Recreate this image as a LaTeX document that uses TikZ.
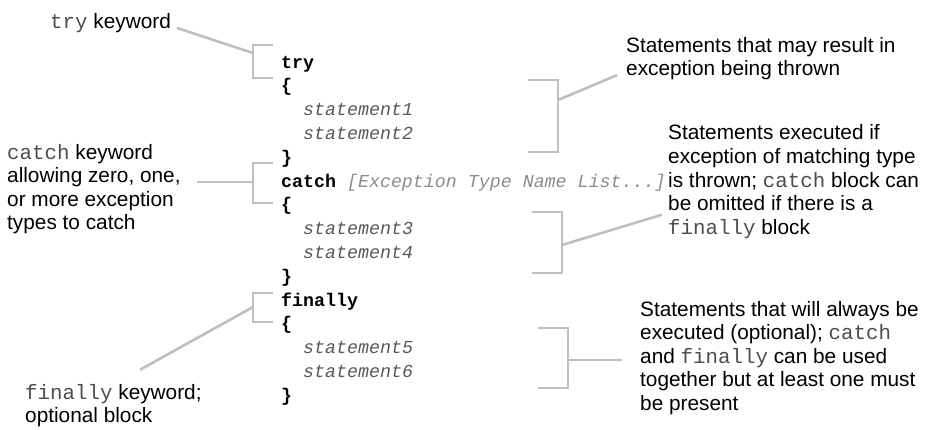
\documentclass[tikz,border=0pt]{standalone}
\usepackage{fontspec}
\setmainfont{Liberation Sans}
\newfontfamily\codefamily{Liberation Mono}
\usetikzlibrary{calc,positioning}
\definecolor{bracketgray}{HTML}{BFBFBF}
\definecolor{stmtgray}{HTML}{595959}
\definecolor{listgray}{HTML}{8C8C8C}
\definecolor{kwgray}{HTML}{4D4D4D}
\newcommand{\kw}[1]{{\codefamily\color{kwgray}#1}}

\begin{document}
\begin{tikzpicture}[
  x=1pt, y=-1pt,
  lbl/.style={anchor=base west, inner sep=0pt, align=left, font=\fontsize{20.8}{23.6}\selectfont},
  codeline/.style={anchor=base west, inner sep=0pt, font=\codefamily\fontsize{18.3}{23.8}\selectfont},
  stmt/.style={codeline, font=\codefamily\itshape\fontsize{18.3}{23.8}\selectfont, text=stmtgray},
  bracket/.style={draw=bracketgray, line width=2.8pt},
  link/.style={draw=bracketgray, line width=2.6pt}
]
\useasboundingbox (0,0) rectangle (932,429);

% code block
\node[codeline] (ltry) at (281,68) {\bfseries try};
\node[codeline] (lopen1) at (281,91.8) {\bfseries\{};
\node[stmt] (lst1) at (303,115.6) {statement1};
\node[stmt] (lst2) at (303,139.4) {statement2};
\node[codeline] (lclose1) at (281,163.2) {\bfseries\}};
\node[codeline] (lcatch) at (281,187) {\textbf{catch} {\itshape\color{listgray}[Exception Type Name List...]}};
\node[codeline] (lopen2) at (281,210.8) {\bfseries\{};
\node[stmt] (lst3) at (303,234.6) {statement3};
\node[stmt] (lst4) at (303,258.4) {statement4};
\node[codeline] (lclose2) at (281,282.2) {\bfseries\}};
\node[codeline] (lfinally) at (281,306) {\bfseries finally};
\node[codeline] (lopen3) at (281,329.8) {\bfseries\{};
\node[stmt] (lst5) at (303,353.6) {statement5};
\node[stmt] (lst6) at (303,377.4) {statement6};
\node[codeline] (lclose3) at (281,401.2) {\bfseries\}};

% labels (base = last line)
\node[lbl] (trylbl) at (50,28) {\kw{try} keyword};
\node[lbl] (catchlbl) at (7,229.8) {\kw{catch} keyword\\allowing zero, one,\\or more exception\\types to catch};
\node[lbl] (finlbl) at (25,422.6) {\kw{finally} keyword;\\optional block};
\node[lbl] (throwlbl) at (626,75.6) {Statements that may result in\\exception being thrown};
\node[lbl] (matchlbl) at (668,234.2) {Statements executed if\\exception of matching type\\is thrown; \kw{catch} block can\\be omitted if there is a\\\kw{finally} block};
\node[lbl] (alwayslbl) at (640,410.4) {Statements that will always be\\executed (optional); \kw{catch}\\and \kw{finally} can be used\\together but at least one must\\be present};

% brackets
\draw[bracket] (273,45) -| (253,78) -- (273,78);
\draw[bracket] (273,163) -| (253,203) -- (273,203);
\draw[bracket] (273,293) -| (253,322) -- (273,322);
\draw[bracket] (528,80) -| (558,152) -- (528,152);
\draw[bracket] (532,212) -| (562,273) -- (532,273);
\draw[bracket] (538,328) -| (568,388) -- (538,388);

\coordinate (btry) at (253,53);
\coordinate (bcatch) at (253,182);
\coordinate (bfin) at (253,307);
\coordinate (bthrow) at (558,100);
\coordinate (bmatch) at (562,245);
\coordinate (balways) at (568,360);

% connectors
\draw[link] ($(trylbl.base east)+(6,0)$) -- (btry);
\draw[link] ($(catchlbl.north east |- bcatch)+(16,0)$) -- (bcatch);
\draw[link] ($(finlbl.north west)+(115,-14)$) -- (bfin);
\draw[link] (bthrow) -- ($(throwlbl.south west)+(-9,-5)$);
\draw[link] (bmatch) -- ($(matchlbl.south west)+(-6,-24)$);
\draw[link] (balways) -- ($(balways -| alwayslbl.west)+(-18,0)$);

\end{tikzpicture}
\end{document}
